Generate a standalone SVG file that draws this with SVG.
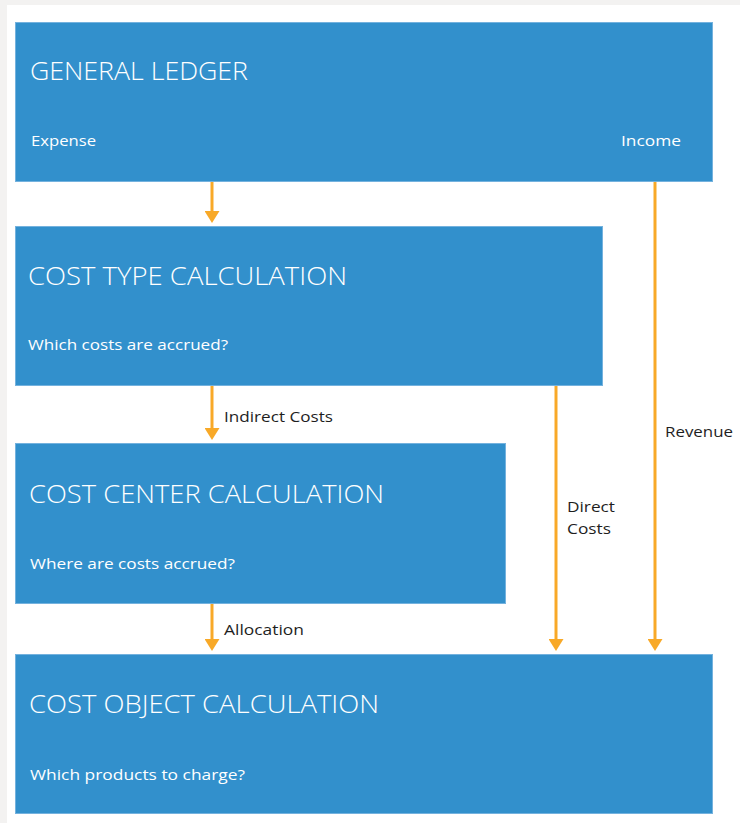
<svg xmlns="http://www.w3.org/2000/svg" width="740" height="823" viewBox="0 0 740 823">
<style>
.box{fill:#3290cc;stroke:#74b2de;stroke-width:1}
.title{font-family:"Open Sans","Noto Sans","Liberation Sans",sans-serif;font-size:26px;fill:#ffffff;font-weight:300}
.sub{font-family:"Open Sans","Noto Sans","Liberation Sans",sans-serif;font-size:15px;fill:#ffffff}
.lbl{font-family:"Open Sans","Noto Sans","Liberation Sans",sans-serif;font-size:15px;fill:#1e1e1e}
.arrow{stroke:#f8a928;stroke-width:3;fill:none;marker-end:url(#head)}
</style>
<defs>
<marker id="head" markerUnits="userSpaceOnUse" markerWidth="12" markerHeight="15" refX="0" refY="7.5" orient="auto" viewBox="0 0 12 15">
<path d="M0,0 L12,7.5 L0,15 z" fill="#f8a928"/>
</marker>
</defs>
<rect x="0" y="0" width="740" height="823" fill="#f3f2f1"/>
<rect x="7" y="5" width="733" height="818" fill="#ffffff"/>

<g id="connectors">
<line class="arrow" x1="212" y1="182" x2="212" y2="211"/>
<line class="arrow" x1="212" y1="386" x2="212" y2="428"/>
<line class="arrow" x1="212" y1="604" x2="212" y2="639"/>
<line class="arrow" x1="556" y1="386" x2="556" y2="639"/>
<line class="arrow" x1="655" y1="182" x2="655" y2="639"/>
<text class="lbl" x="224" y="422" textLength="109" lengthAdjust="spacingAndGlyphs">Indirect Costs</text>
<text class="lbl" x="224" y="635" textLength="80" lengthAdjust="spacingAndGlyphs">Allocation</text>
<text class="lbl" x="665" y="437" textLength="68" lengthAdjust="spacingAndGlyphs">Revenue</text>
<text class="lbl" x="567" y="512" textLength="48" lengthAdjust="spacingAndGlyphs">Direct</text>
<text class="lbl" x="567" y="534" textLength="44" lengthAdjust="spacingAndGlyphs">Costs</text>
</g>

<g id="general-ledger">
<rect class="box" x="15.5" y="22.5" width="697" height="159"/>
<text class="title" x="30" y="80" textLength="218" lengthAdjust="spacingAndGlyphs">GENERAL LEDGER</text>
<text class="sub" x="31" y="146" textLength="65" lengthAdjust="spacingAndGlyphs">Expense</text>
<text class="sub" x="621" y="146" textLength="60" lengthAdjust="spacingAndGlyphs">Income</text>
</g>

<g id="cost-type">
<rect class="box" x="15.5" y="226.5" width="587" height="159"/>
<text class="title" x="28" y="285" textLength="319" lengthAdjust="spacingAndGlyphs">COST TYPE CALCULATION</text>
<text class="sub" x="28" y="350" textLength="200" lengthAdjust="spacingAndGlyphs">Which costs are accrued?</text>
</g>

<g id="cost-center">
<rect class="box" x="15.5" y="443.5" width="490" height="160"/>
<text class="title" x="29" y="503" textLength="355" lengthAdjust="spacingAndGlyphs">COST CENTER CALCULATION</text>
<text class="sub" x="30" y="569" textLength="205" lengthAdjust="spacingAndGlyphs">Where are costs accrued?</text>
</g>

<g id="cost-object">
<rect class="box" x="15.5" y="654.5" width="697" height="159"/>
<text class="title" x="29" y="713" textLength="350" lengthAdjust="spacingAndGlyphs">COST OBJECT CALCULATION</text>
<text class="sub" x="30" y="780" textLength="215" lengthAdjust="spacingAndGlyphs">Which products to charge?</text>
</g>
</svg>
